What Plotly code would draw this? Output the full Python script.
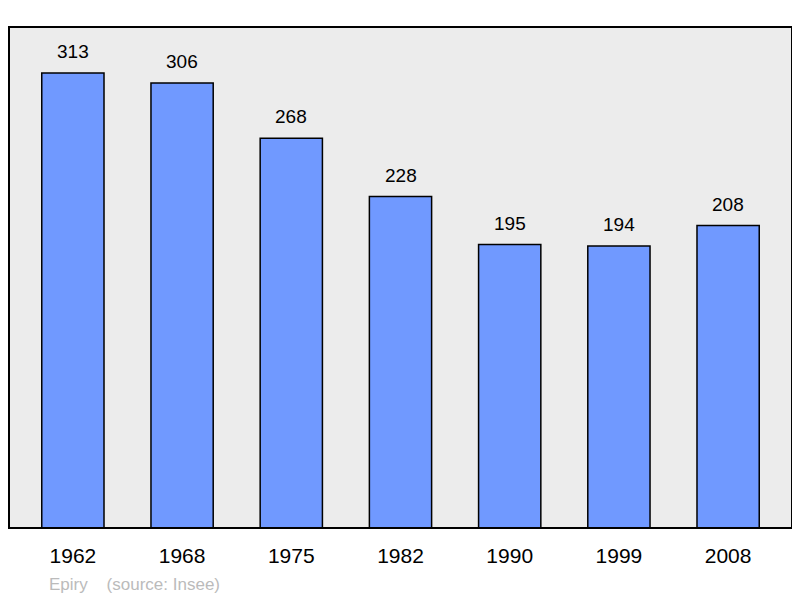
import plotly.graph_objects as go

years = ["1962", "1968", "1975", "1982", "1990", "1999", "2008"]
population = [313, 306, 268, 228, 195, 194, 208]
commune = "Epiry"
source_text = "(source: Insee)"

FONT = "Liberation Sans, Arial, sans-serif"

fig = go.Figure()
fig.add_trace(go.Bar(
    x=years, y=population,
    width=0.57,
    marker=dict(color="#7099ff", line=dict(color="#000000", width=1.5)),
    hoverinfo="x+y",
))

for i, val in enumerate(population):
    fig.add_annotation(x=i, y=val, text=str(val), showarrow=False,
                       xref="x", yref="y",
                       yanchor="bottom", yshift=9,
                       font=dict(size=19, color="#000000", family=FONT))

fig.add_annotation(xref="paper", yref="paper", x=(47 - 9) / 783, y=-(584 - 528) / 501,
                   xanchor="left", yanchor="middle", showarrow=False,
                   text=commune + "    " + source_text,
                   font=dict(size=17, color="#bbbbbb", family=FONT))

fig.add_shape(type="rect", xref="paper", yref="paper", x0=0, y0=0, x1=1, y1=1,
              line=dict(color="#000000", width=2), layer="above")

# page body adds an 8px margin, so the figure is 792x590 with offsets reduced
fig.update_layout(
    width=792, height=590,
    margin=dict(l=1, r=8, t=19, b=70),
    paper_bgcolor="#ffffff",
    plot_bgcolor="#ececec",
    showlegend=False,
    font=dict(family=FONT, color="#000000"),
    xaxis=dict(type="category", range=[-0.585, 6.585], showgrid=False, zeroline=False,
               showline=False, ticks="outside", ticklen=9, tickcolor="rgba(0,0,0,0)",
               tickfont=dict(size=21, color="#000000")),
    yaxis=dict(range=[0, 344.6], showgrid=False, zeroline=False, showticklabels=False,
               showline=False),
)

fig.write_html("out.html")
